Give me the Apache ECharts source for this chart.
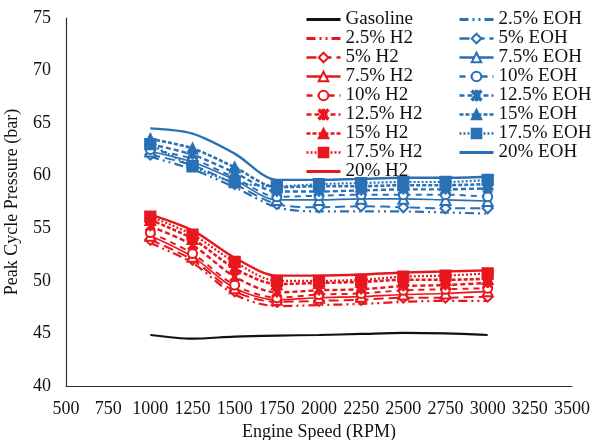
<!DOCTYPE html>
<html>
<head>
<meta charset="utf-8">
<script src="https://cdn.jsdelivr.net/npm/echarts@6/dist/echarts.min.js"></script>
<style>
  html, body { margin: 0; padding: 0; background: #fff; }
  #chart { width: 598px; height: 440px; }
</style>
</head>
<body>
<div id="chart"></div>
<script>
// Engine speed steps (RPM)
const rpm = [1000, 1250, 1500, 1750, 2000, 2250, 2500, 2750, 3000];

// Peak cycle pressure (bar) — base fuel
const gasoline = [44.85, 44.5, 44.7, 44.8, 44.85, 44.95, 45.05, 45.0, 44.85];

// Hydrogen blends
const h2_025 = [53.6, 51.7, 48.7, 47.6, 47.7, 47.8, 48.0, 48.1, 48.1];
const h2_050 = [53.9, 52.0, 49.0, 48.0, 48.1, 48.2, 48.4, 48.4, 48.5];
const h2_075 = [54.3, 52.3, 49.3, 48.2, 48.4, 48.5, 48.7, 48.8, 49.0];
const h2_100 = [54.6, 52.6, 49.6, 48.4, 48.7, 48.8, 49.1, 49.2, 49.3];
const h2_125 = [55.2, 53.4, 50.4, 48.9, 49.1, 49.2, 49.5, 49.6, 49.8];
const h2_150 = [55.8, 54.0, 51.2, 49.7, 49.8, 49.9, 50.1, 50.1, 50.2];
const h2_175 = [56.1, 54.4, 51.8, 50.0, 50.0, 50.1, 50.4, 50.5, 50.7];
const h2_200 = [56.3, 54.8, 52.2, 50.5, 50.5, 50.6, 50.8, 50.9, 51.0];

// Ethanol blends
const eoh_025 = [61.8, 60.6, 58.9, 57.0, 56.6, 56.6, 56.6, 56.5, 56.4];
const eoh_050 = [62.0, 61.0, 59.2, 57.3, 57.0, 57.1, 57.0, 56.9, 56.9];
const eoh_075 = [62.3, 61.3, 59.6, 57.7, 57.7, 57.8, 57.8, 57.7, 57.6];
const eoh_100 = [62.5, 61.6, 59.8, 58.0, 58.1, 58.2, 58.2, 58.2, 58.0];
const eoh_125 = [63.0, 62.0, 60.3, 58.5, 58.5, 58.6, 58.7, 58.7, 58.8];
const eoh_150 = [63.5, 62.6, 60.8, 58.9, 59.0, 59.0, 59.1, 59.1, 59.2];
const eoh_175 = [63.0, 60.9, 59.4, 59.0, 59.2, 59.3, 59.4, 59.4, 59.6];
const eoh_200 = [64.5, 64.0, 62.1, 59.6, 59.6, 59.7, 59.8, 59.8, 59.9];

// Axis ticks
const xTicks = [500, 750, 1000, 1250, 1500, 1750, 2000, 2250, 2500, 2750, 3000, 3250, 3500];
const yTicks = [40, 45, 50, 55, 60, 65, 70, 75];

const RED = '#e8171d';
const BLUE = '#2a70b5';
const FONT = '"Liberation Serif", "Times New Roman", serif';

// six-armed asterisk marker
const ASTERISK = 'path://M0,1.2L1.2,0L5,3.8L8.8,0L10,1.2L6.2,5L10,8.8L8.8,10L5,6.2L1.2,10L0,8.8L3.8,5Z M4.3,0L5.7,0L5.7,10L4.3,10Z';

function pairs(values) {
  return values.map((v, i) => [rpm[i], v]);
}

function mk(name, values, color, dash, symbol, width, size) {
  return {
    name: name,
    type: 'line',
    smooth: 0.3,
    data: pairs(values),
    symbol: symbol || 'none',
    symbolSize: size || 9,
    showSymbol: !!symbol,
    lineStyle: { color: color, width: width || 2, type: dash },
    itemStyle: { color: color, borderColor: color, borderWidth: 1.3 },
    emphasis: { disabled: true },
    animation: false
  };
}

const series = [
  mk('Gasoline', gasoline, '#111', 'solid', null, 2.2),
  mk('2.5% H2', h2_025, RED, [9, 4, 2, 4, 2, 4], null, 2.2),
  mk('5% H2', h2_050, RED, [10, 5], 'emptyDiamond', 2, 10),
  mk('7.5% H2', h2_075, RED, 'solid', 'emptyTriangle', 1.6, 10),
  mk('10% H2', h2_100, RED, [6, 5], 'emptyCircle', 2, 9),
  mk('12.5% H2', h2_125, RED, [5, 3], ASTERISK, 2.4, 9),
  mk('15% H2', h2_150, RED, [4, 2], 'triangle', 2.6, 11),
  mk('17.5% H2', h2_175, RED, [2, 2], 'rect', 2.2, 11),
  mk('20% H2', h2_200, RED, 'solid', null, 2.4),
  mk('2.5% EOH', eoh_025, BLUE, [9, 4, 2, 4, 2, 4], null, 2.2),
  mk('5% EOH', eoh_050, BLUE, [10, 5], 'emptyDiamond', 2, 10),
  mk('7.5% EOH', eoh_075, BLUE, 'solid', 'emptyTriangle', 1.6, 10),
  mk('10% EOH', eoh_100, BLUE, [6, 5], 'emptyCircle', 2, 9),
  mk('12.5% EOH', eoh_125, BLUE, [5, 3], ASTERISK, 2.4, 9),
  mk('15% EOH', eoh_150, BLUE, [4, 2], 'triangle', 2.6, 11),
  mk('17.5% EOH', eoh_175, BLUE, [2, 2], 'rect', 2.2, 11),
  mk('20% EOH', eoh_200, BLUE, 'solid', null, 2.4)
];

// legend entries: series without markers show only a thicker line
function legendItems(list) {
  return list.map(s => s.showSymbol
    ? { name: s.name, lineStyle: { width: 2.6 } }
    : { name: s.name, itemStyle: { opacity: 0 }, lineStyle: { width: 3 } });
}

const legendText = { fontFamily: FONT, fontSize: 19, color: '#111', lineHeight: 18.75 };

const option = {
  backgroundColor: '#fff',
  animation: false,
  grid: { left: 66, right: 26, top: 18, bottom: 54, outerBoundsMode: 'none', containLabel: false },
  legend: [
    {
      orient: 'vertical', left: 305, top: 10, padding: 0,
      itemWidth: 34, itemHeight: 12, itemGap: 0,
      textStyle: legendText,
      data: legendItems(series.slice(0, 9)),
      selectedMode: false
    },
    {
      orient: 'vertical', left: 458, top: 10, padding: 0,
      itemWidth: 34, itemHeight: 12, itemGap: 0,
      textStyle: legendText,
      data: legendItems(series.slice(9)),
      selectedMode: false
    }
  ],
  xAxis: {
    type: 'value',
    min: xTicks[0], max: xTicks[xTicks.length - 1], interval: 250,
    name: 'Engine Speed (RPM)',
    nameLocation: 'middle', nameGap: 31,
    nameTextStyle: { fontFamily: FONT, fontSize: 18, color: '#111' },
    axisLine: { lineStyle: { color: '#333', width: 1.2 } },
    axisTick: { show: false },
    splitLine: { show: false },
    axisLabel: { fontFamily: FONT, fontSize: 18, color: '#111', margin: 14, formatter: v => String(v) }
  },
  yAxis: {
    type: 'value',
    min: yTicks[0], max: yTicks[yTicks.length - 1], interval: 5,
    name: 'Peak Cycle Pressure (bar)',
    nameLocation: 'middle', nameGap: 45,
    nameTextStyle: { fontFamily: FONT, fontSize: 18, color: '#111' },
    axisLine: { show: true, lineStyle: { color: '#333', width: 1.2 } },
    axisTick: { show: false },
    splitLine: { show: false },
    axisLabel: { fontFamily: FONT, fontSize: 18, color: '#111', margin: 15, formatter: v => String(v) }
  },
  series: series
};

const chart = echarts.init(document.getElementById('chart'), null, { renderer: 'canvas' });
chart.setOption(option);
</script>
</body>
</html>
